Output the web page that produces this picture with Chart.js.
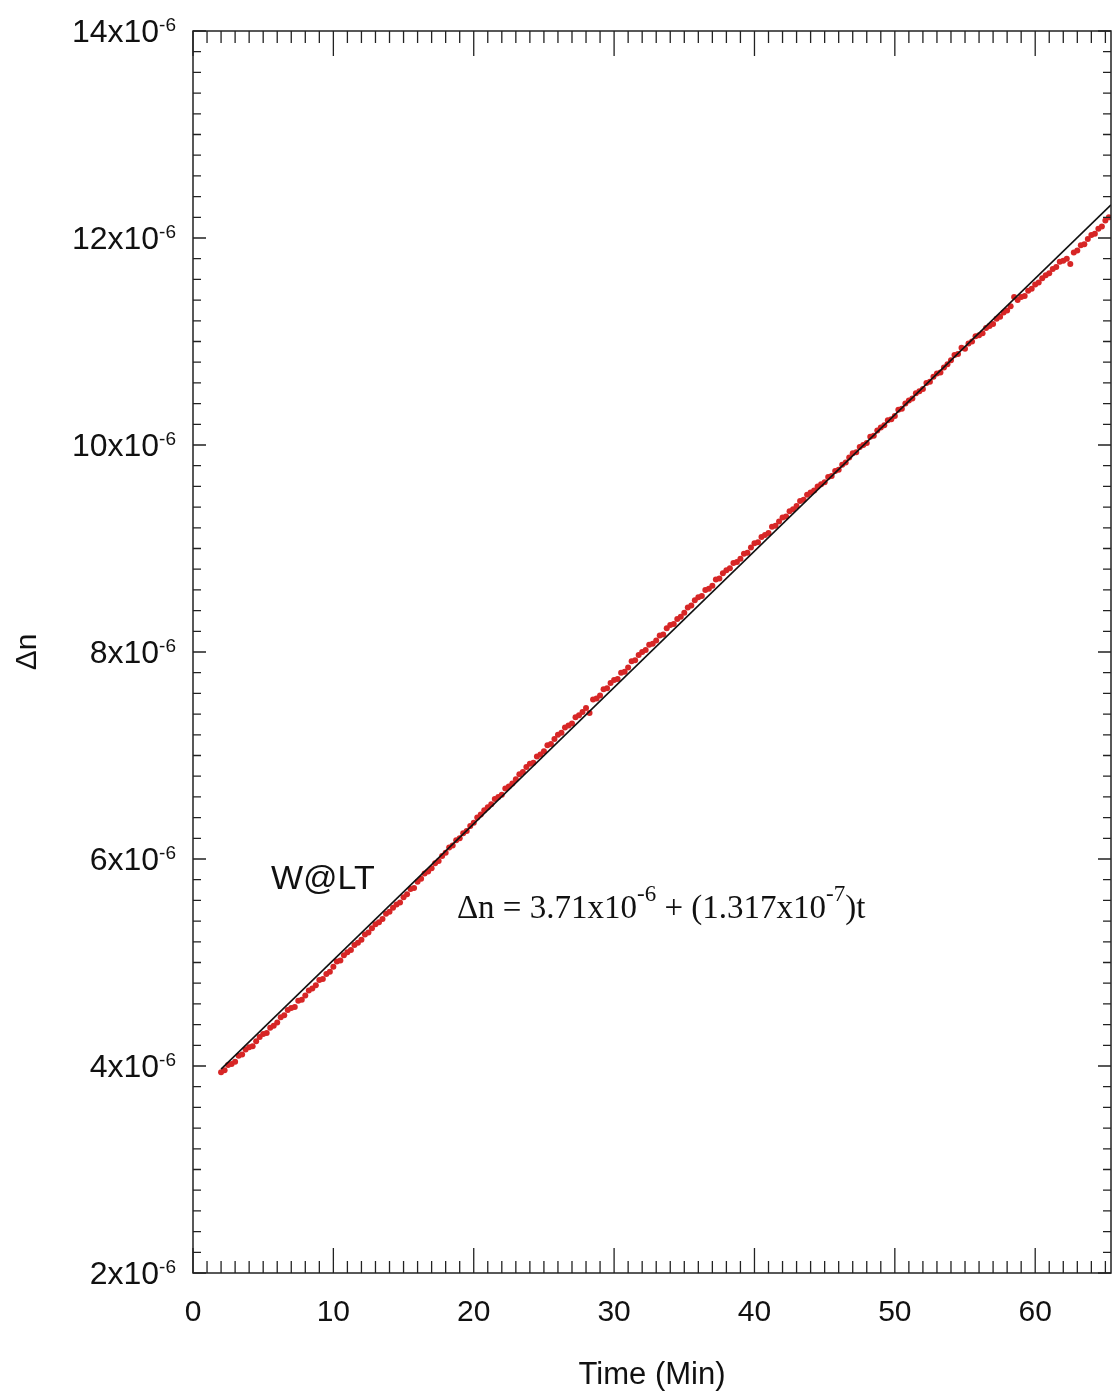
<!DOCTYPE html>
<html>
<head>
<meta charset="utf-8">
<script src="https://cdn.jsdelivr.net/npm/chart.js@4"></script>
<style>
  html, body { margin: 0; padding: 0; background: #fff; overflow: hidden; }
  #wrap { width: 1115px; height: 1393px; }
</style>
</head>
<body>
<div id="wrap"><canvas id="myChart"></canvas></div>
<script>
// measured delta n, in units of 1e-6, sampled every 0.25 min from t = 2 min
const startTime = 2;
const sampleStep = 0.25;
const dnValues = [
  3.94, 3.96, 4.01, 4.02,  4.04, 4.10, 4.11, 4.16,  4.18, 4.19, 4.24, 4.28,
  4.31, 4.32, 4.37, 4.39,  4.42, 4.47, 4.49, 4.54,  4.56, 4.57, 4.63, 4.64,
  4.68, 4.73, 4.75, 4.78,  4.83, 4.84, 4.89, 4.91,  4.96, 5.01, 5.02, 5.07,
  5.10, 5.12, 5.17, 5.19,  5.22, 5.27, 5.29, 5.33,  5.37, 5.39, 5.42, 5.47,
  5.49, 5.53, 5.56, 5.58,  5.63, 5.66, 5.71, 5.72,  5.78, 5.81, 5.86, 5.88,
  5.91, 5.96, 5.98, 6.03,  6.06, 6.11, 6.13, 6.18,  6.20, 6.25, 6.27, 6.32,
  6.35, 6.40, 6.43, 6.47,  6.50, 6.53, 6.58, 6.60,  6.62, 6.68, 6.70, 6.73,
  6.77, 6.82, 6.84, 6.89,  6.92, 6.93, 6.99, 7.01,  7.04, 7.10, 7.11, 7.16,
  7.20, 7.22, 7.27, 7.29,  7.31, 7.37, 7.39, 7.42,  7.46, 7.41, 7.54, 7.55,
  7.58, 7.64, 7.65, 7.70,  7.73, 7.74, 7.80, 7.81,  7.85, 7.91, 7.92, 7.97,
  8.00, 8.02, 8.07, 8.08,  8.11, 8.16, 8.17, 8.23,  8.26, 8.27, 8.32, 8.34,
  8.38, 8.43, 8.45, 8.50,  8.53, 8.54, 8.60, 8.61,  8.64, 8.70, 8.71, 8.76,
  8.79, 8.81, 8.86, 8.87,  8.90, 8.95, 8.96, 9.01,  9.05, 9.06, 9.11, 9.13,
  9.15, 9.21, 9.22, 9.26,  9.30, 9.31, 9.36, 9.38,  9.41, 9.46, 9.47, 9.52,
  9.54, 9.56, 9.60, 9.62,  9.64, 9.69, 9.70, 9.75,  9.76, 9.81, 9.83, 9.88,
  9.92, 9.93, 9.98, 10.00, 10.02, 10.08, 10.09, 10.14, 10.17, 10.19, 10.24, 10.25,
  10.28, 10.34, 10.35, 10.40, 10.43, 10.45, 10.50, 10.52, 10.54, 10.60, 10.61, 10.66,
  10.69, 10.70, 10.75, 10.78, 10.82, 10.87, 10.88, 10.94, 10.93, 10.98, 11.00, 11.05,
  11.06, 11.08, 11.13, 11.15, 11.17, 11.22, 11.24, 11.28, 11.30, 11.34, 11.43, 11.40,
  11.43, 11.44, 11.49, 11.51, 11.55, 11.57, 11.61, 11.64, 11.66, 11.70, 11.72, 11.77,
  11.78, 11.80, 11.75, 11.86, 11.88, 11.93, 11.94, 11.99, 12.03, 12.04, 12.09, 12.11,
  12.17, 12.20
];

// fitted line end points
const fitTime = [2, 65.4];
const fitDn = [3.97, 12.32];

// tick labels
const xTicks = [0, 10, 20, 30, 40, 50, 60];
const yTicks = [2, 4, 6, 8, 10, 12, 14];

const points = dnValues.map((v, i) => ({x: startTime + i * sampleStep, y: v}));
const fitLine = fitTime.map((t, i) => ({x: t, y: fitDn[i]}));

const sans = "'Liberation Sans', Arial, sans-serif";
const serif = "'Liberation Serif', 'Times New Roman', serif";

// frame, inward ticks, y labels with superscripts, text notes
const decor = {
  id: "decor",
  afterDraw(chart) {
    const {ctx, chartArea: a, scales: {x, y}} = chart;
    ctx.save();
    ctx.strokeStyle = "#222";
    ctx.lineWidth = 1.5;
    ctx.strokeRect(a.left, a.top, a.right - a.left, a.bottom - a.top);

    ctx.lineWidth = 1.3;
    ctx.beginPath();
    for (let i = 0; i <= 65; i++) {
      const px = x.getPixelForValue(i);
      const len = i % 10 === 0 ? 25 : 12;
      ctx.moveTo(px, a.bottom); ctx.lineTo(px, a.bottom - len);
      ctx.moveTo(px, a.top); ctx.lineTo(px, a.top + len);
    }
    for (let i = 10; i <= 70; i++) {
      const py = y.getPixelForValue(i / 5);
      const len = i % 10 === 0 ? 13 : 8;
      ctx.moveTo(a.left, py); ctx.lineTo(a.left + len, py);
      ctx.moveTo(a.right, py); ctx.lineTo(a.right - len, py);
    }
    ctx.stroke();

    // y tick labels
    ctx.fillStyle = "#111";
    ctx.textBaseline = "middle";
    ctx.textAlign = "right";
    yTicks.forEach(v => {
      const py = y.getPixelForValue(v);
      ctx.font = "19px " + sans;
      const supW = ctx.measureText("-6").width;
      ctx.fillText("-6", 176, py - 5);
      ctx.font = "32px " + sans;
      ctx.fillText(v + "x10", 176 - supW, py + 2);
    });

    // sample label
    ctx.textAlign = "left";
    ctx.font = "34px " + sans;
    ctx.fillText("W@LT", x.getPixelForValue(5.55), y.getPixelForValue(5.8));

    // fit equation
    ctx.textBaseline = "alphabetic";
    let ex = x.getPixelForValue(18.8);
    const ey = y.getPixelForValue(5.43);
    const parts = [["\u0394n = 3.71x10", 0], ["-6", 1], [" + (1.317x10", 0], ["-7", 1], [")t", 0]];
    parts.forEach(([s, sup]) => {
      ctx.font = (sup ? "23px " : "33px ") + serif;
      ctx.fillText(s, ex, sup ? ey - 17 : ey);
      ex += ctx.measureText(s).width;
    });
    ctx.restore();
  }
};

new Chart(document.getElementById("myChart"), {
  type: "scatter",
  data: {
    datasets: [
      {
        label: "Fit",
        type: "line",
        data: fitLine,
        borderColor: "#111",
        borderWidth: 1.6,
        pointRadius: 0,
        fill: false,
        order: 0
      },
      {
        label: "Delta n",
        data: points,
        backgroundColor: "rgb(215, 38, 38)",
        borderWidth: 0,
        pointRadius: 3,
        order: 1
      }
    ]
  },
  options: {
    responsive: true,
    maintainAspectRatio: false,
    animation: false,
    layout: {padding: {top: 31, right: 0, bottom: 0, left: 0}},
    plugins: {legend: {display: false}, tooltip: {enabled: false}},
    scales: {
      x: {
        type: "linear",
        min: 0,
        max: 65.4,
        grid: {display: false},
        border: {display: false},
        afterBuildTicks: s => { s.ticks = xTicks.map(v => ({value: v})); },
        afterFit: s => { s.height = 120; s.paddingLeft = 0; s.paddingRight = 0; },
        ticks: {padding: 14, color: "#111", font: {family: sans, size: 30}},
        title: {display: true, text: "Time (Min)", color: "#111", padding: {top: 0, bottom: -1},
                font: {family: sans, size: 31}}
      },
      y: {
        type: "linear",
        min: 2,
        max: 14,
        grid: {display: false},
        border: {display: false},
        afterFit: s => { s.width = 193; },
        ticks: {display: false},
        title: {display: true, text: "\u0394n", color: "#111", padding: {top: 10, bottom: 0},
                font: {family: sans, size: 30}}
      }
    }
  },
  plugins: [decor]
});
</script>
</body>
</html>
